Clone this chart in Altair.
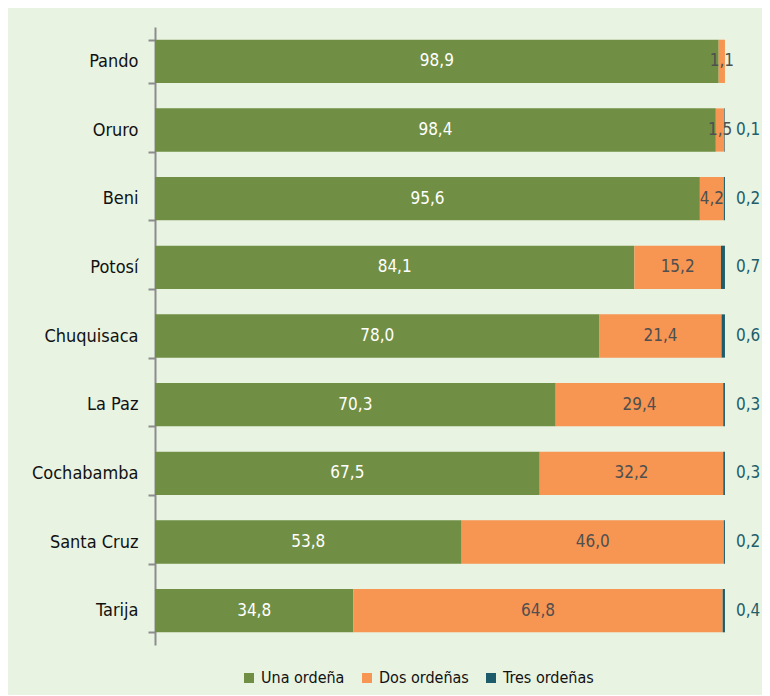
import altair as alt
import pandas as pd

departamentos = ["Pando", "Oruro", "Beni", "Potosí", "Chuquisaca", "La Paz",
                 "Cochabamba", "Santa Cruz", "Tarija"]
una = [98.9, 98.4, 95.6, 84.1, 78.0, 70.3, 67.5, 53.8, 34.8]
dos = [1.1, 1.5, 4.2, 15.2, 21.4, 29.4, 32.2, 46.0, 64.8]
tres = [0.0, 0.1, 0.2, 0.7, 0.6, 0.3, 0.3, 0.2, 0.4]
series = ["Una ordeña", "Dos ordeñas", "Tres ordeñas"]
colors = ["#718f44", "#f79552", "#1f5c6b"]

rows = []
for i, d in enumerate(departamentos):
    for k, (s, v) in enumerate(zip(series, [una[i], dos[i], tres[i]])):
        rows.append({"dep": d, "serie": s, "orden": k, "valor": v})
df = pd.DataFrame(rows)

FONT = "Liberation Sans Narrow, DejaVu Sans Condensed, sans-serif"

base = (
    alt.Chart(df)
    .transform_stack(stack="valor", groupby=["dep"], as_=["x0", "x1"],
                     sort=[alt.SortField("orden", order="ascending")])
    .transform_calculate(mid="(datum.x0 + datum.x1) / 2",
                         lab="replace(format(datum.valor, '.1f'), '.', ',')")
)

y = alt.Y(
    "dep:N", sort=departamentos, title=None,
    scale=alt.Scale(paddingInner=0.37, paddingOuter=0.185),
    axis=alt.Axis(
        tickBand="extent", domainColor="#8c8c8c", domainWidth=2,
        tickColor="#8c8c8c", tickWidth=2, tickSize=7,
        labelFont=FONT, labelFontSize=18, labelColor="#111111",
        labelPadding=10,
    ),
)
xscale = alt.Scale(domain=[0, 106.5], nice=False, zero=True)

bars = base.mark_bar().encode(
    y=y,
    x=alt.X("x0:Q", scale=xscale, axis=None),
    x2="x1:Q",
    color=alt.Color(
        "serie:N",
        scale=alt.Scale(domain=series, range=colors),
        legend=alt.Legend(
            orient="none", legendX=86, legendY=643, direction="horizontal",
            title=None, symbolType="square", symbolSize=100,
            symbolStrokeWidth=0, labelFont=FONT, labelFontSize=16,
            labelColor="#111111", columnPadding=14, labelOffset=4,
        ),
    ),
)

txt_una = base.transform_filter("datum.orden == 0").mark_text(
    font=FONT, fontSize=17, color="white", align="center", baseline="middle"
).encode(y=y, x=alt.X("mid:Q", scale=xscale, axis=None), text="lab:N")

txt_dos = base.transform_filter("datum.orden == 1").mark_text(
    font=FONT, fontSize=17, color="#4f4f4f", align="center", baseline="middle"
).encode(y=y, x=alt.X("mid:Q", scale=xscale, axis=None), text="lab:N")

txt_tres = base.transform_filter("datum.orden == 2 && datum.valor > 0").mark_text(
    font=FONT, fontSize=17, color="#235d6a", align="left", baseline="middle", dx=11
).encode(y=y, x=alt.X("x1:Q", scale=xscale, axis=None), text="lab:N")

chart = (
    alt.layer(bars, txt_una, txt_dos, txt_tres)
    .properties(width=607, height=618,
                autosize=alt.AutoSizeParams(type="none"),
                padding={"left": 147, "top": 19, "right": 0, "bottom": 50})
    .configure(background="#e8f3e2")
    .configure_view(stroke=None)
)

chart.save("out.html", embed_options={"renderer": "svg", "actions": False})
